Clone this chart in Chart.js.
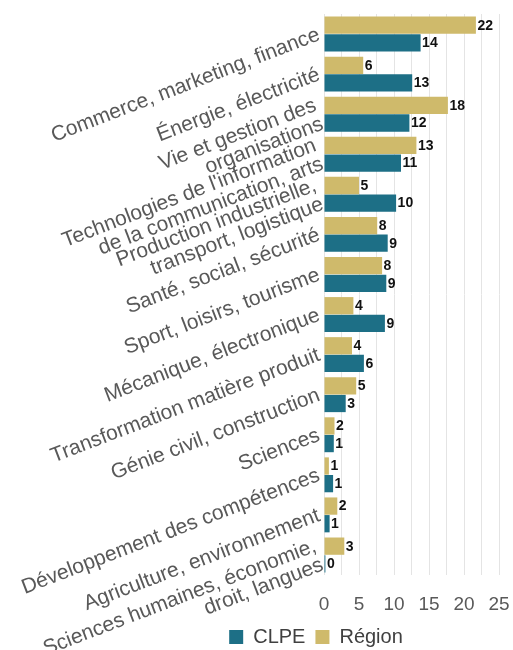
<!DOCTYPE html>
<html>
<head>
<meta charset="utf-8">
<script src="https://cdn.jsdelivr.net/npm/chart.js@4"></script>
<style>
html,body{margin:0;padding:0;background:#fff;}
#wrap{width:513px;height:650px;}
</style>
</head>
<body>
<div id="wrap"><canvas id="c" width="513" height="650"></canvas></div>
<script>
const categories = [
  "Commerce, marketing, finance",
  "Énergie, électricité",
  ["Vie et gestion des", "organisations"],
  ["Technologies de l'information", "de la communication, arts"],
  ["Production industrielle,", "transport, logistique"],
  "Santé, social, sécurité",
  "Sport, loisirs, tourisme",
  "Mécanique, électronique",
  "Transformation matière produit",
  "Génie civil, construction",
  "Sciences",
  "Développement des compétences",
  "Agriculture, environnement",
  ["Sciences humaines, économie,", "droit, langues"]
];
const regionValues = [21.7, 5.6, 17.7, 13.2, 5.0, 7.6, 8.3, 4.2, 4.0, 4.6, 1.5, 0.7, 1.9, 2.9];
const clpeValues   = [13.8, 12.6, 12.2, 11.0, 10.3, 9.1, 8.9, 8.7, 5.7, 3.1, 1.4, 1.3, 0.8, 0.2];
const xTickLabels = [0, 5, 10, 15, 20, 25];

const FONT = "'Liberation Sans', Arial, sans-serif";
const GRAY = "#595959";

const valueLabels = {
  id: 'valueLabels',
  afterLayout(chart) {
    // let rotated category labels extend past the axis box (no clipping)
    chart.scales.y.left = 0;
  },
  afterDatasetsDraw(chart) {
    const ctx = chart.ctx;
    ctx.save();
    ctx.font = "bold 14px " + FONT;
    ctx.fillStyle = "#111";
    ctx.textAlign = "left";
    ctx.textBaseline = "middle";
    chart.data.datasets.forEach((ds, di) => {
      const meta = chart.getDatasetMeta(di);
      if (meta.hidden) return;
      meta.data.forEach((bar, i) => {
        ctx.fillText(String(Math.round(ds.data[i])), bar.x + 1.5, bar.y + 0.5);
      });
    });
    ctx.restore();
  }
};

new Chart(document.getElementById('c'), {
  type: 'bar',
  data: {
    labels: categories,
    datasets: [
      { label: 'Région', data: regionValues, backgroundColor: '#CFBA6B', categoryPercentage: 0.88, barPercentage: 0.98 },
      { label: 'CLPE', data: clpeValues, backgroundColor: '#1D6F86', categoryPercentage: 0.88, barPercentage: 0.98 }
    ]
  },
  options: {
    indexAxis: 'y',
    responsive: false,
    animation: false,
    layout: { padding: { left: 133, right: 14, top: 14, bottom: -7 } },
    scales: {
      x: {
        min: 0, max: 25,
        border: { display: false },
        grid: { color: '#e4e4e4', lineWidth: 1, drawTicks: false },
        ticks: {
          stepSize: 2.5,
          padding: 15,
          minRotation: 0,
          maxRotation: 0,
          autoSkip: false,
          color: GRAY,
          font: { family: FONT, size: 19, lineHeight: 1.6 },
          callback: (v) => xTickLabels.includes(v) ? String(v) : ''
        },
        afterFit: (s) => { s.paddingLeft = 0; s.paddingRight = 0; s.height = 42; }
      },
      y: {
        border: { display: false },
        grid: { display: false, drawTicks: false },
        ticks: {
          autoSkip: false,
          minRotation: 21,
          maxRotation: 21,
          padding: 5,
          color: GRAY,
          font: { family: FONT, size: 21, lineHeight: 0.95 }
        },
        afterFit: (s) => { s.width = 191; s.paddingTop = 0; s.paddingBottom = 0; }
      }
    },
    plugins: {
      legend: {
        position: 'bottom',
        reverse: true,
        labels: {
          boxWidth: 14, boxHeight: 14, padding: 10,
          color: '#404040',
          font: { family: FONT, size: 20 }
        }
      },
      tooltip: { enabled: false }
    }
  },
  plugins: [valueLabels]
});
</script>
</body>
</html>
